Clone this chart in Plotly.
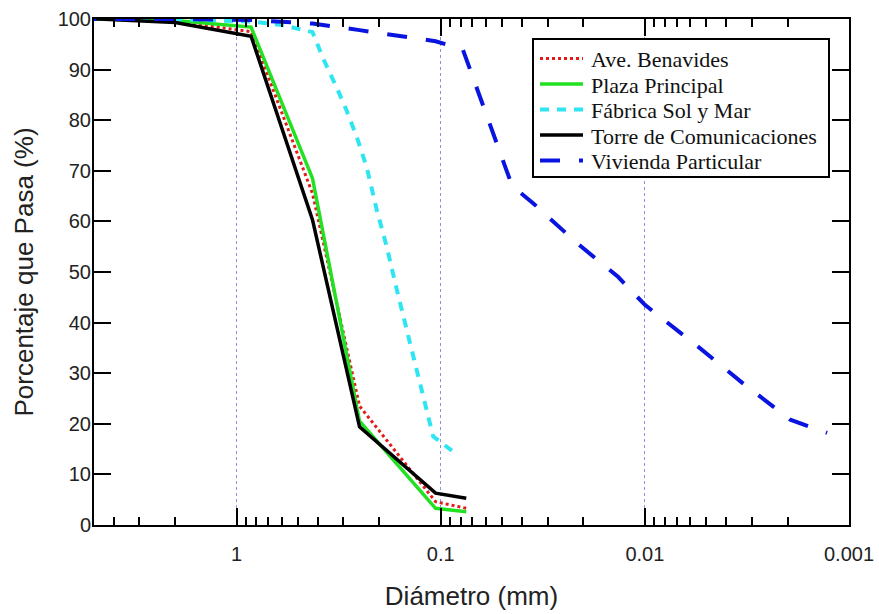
import numpy as np
import plotly.graph_objects as go

# Sieve sizes (mm)
d_std = [9.5, 4.75, 2.0, 0.85, 0.425, 0.25, 0.106, 0.075]

ave_benavides = [100, 100, 99.5, 97.5, 65.5, 23.5, 4.6, 3.3]
plaza_principal = [100, 100, 99.7, 98.4, 68.5, 20.5, 3.3, 2.6]
torre_com = [100, 100, 99.3, 96.6, 60.3, 19.4, 6.3, 5.3]

d_fabrica = [9.5, 4.75, 2.0, 0.85, 0.6, 0.425, 0.375, 0.32, 0.29, 0.258, 0.231, 0.206,
             0.184, 0.164, 0.147, 0.131, 0.117, 0.109, 0.087]
fabrica = [100, 100, 100, 99.5, 98.8, 97.4, 92.0, 86.0, 82.0, 76.7, 70.8, 62.3,
           55.0, 46.4, 38.5, 30.6, 22.1, 17.5, 14.5]

d_vivienda = [9.5, 4.75, 2.0, 0.85, 0.425, 0.25, 0.106, 0.078, 0.0447, 0.0353, 0.0215,
              0.0135, 0.01, 0.00547, 0.00333, 0.00194, 0.00128]
vivienda = [100, 100, 100, 99.8, 99.1, 97.8, 95.6, 94.0, 67.0, 63.6, 55.7,
            49.0, 43.5, 35.2, 28.1, 20.8, 18.2]

names = ["Ave. Benavides", "Plaza Principal", "Fábrica Sol y Mar",
         "Torre de Comunicaciones", "Vivienda Particular"]

x_tickvals = [1, 0.1, 0.01, 0.001]
x_ticktext = ["1", "0.1", "0.01", "0.001"]
y_tickvals = list(range(0, 101, 10))

styles = [
    dict(color="#e31a1a", width=3, dash="dot"),
    dict(color="#22e022", width=3.5, dash="solid"),
    dict(color="#2ee6f2", width=4, dash="9px,8px"),
    dict(color="black", width=3.5, dash="solid"),
    dict(color="#0a14e0", width=4, dash="20px,19px"),
]
xs = [d_std, d_std, d_fabrica, d_std, d_vivienda]
ys = [ave_benavides, plaza_principal, fabrica, torre_com, vivienda]

fig = go.Figure()
for name, x, y, st in zip(names, xs, ys, styles):
    fig.add_trace(go.Scatter(x=x, y=y, mode="lines", name=name, line=st))

# ---- legend box (drawn in paper coordinates) ----
W, H = 879, 614
L, R, T, B = 94, 30, 19, 89
pw, ph = W - L - R, H - T - B


def px(xp):
    return (xp - L) / pw


def py(yp):
    return (H - B - yp) / ph


shapes = [dict(type="rect", xref="paper", yref="paper",
               x0=px(533), x1=px(829), y0=py(177), y1=py(39),
               line=dict(color="black", width=2), fillcolor="white", layer="above")]
annotations = []
row_y = [58.5, 84, 109.5, 135, 160.5]
for name, st, ry in zip(names, styles, row_y):
    shapes.append(dict(type="line", xref="paper", yref="paper",
                       x0=px(540), x1=px(583), y0=py(ry), y1=py(ry),
                       line=dict(color=st["color"], width=st["width"], dash=st["dash"]),
                       layer="above"))
    annotations.append(dict(xref="paper", yref="paper", x=px(589), y=py(ry + 1),
                            xanchor="left", yanchor="middle", showarrow=False,
                            text=name,
                            font=dict(family="Liberation Serif, Times New Roman, serif",
                                      size=22, color="#111")))

fig.update_layout(
    width=W, height=H,
    margin=dict(l=L, r=R, t=T, b=B),
    paper_bgcolor="white", plot_bgcolor="white",
    font=dict(family="Liberation Sans, Arial, sans-serif", color="#222"),
    showlegend=False,
    shapes=shapes,
    annotations=annotations,
)

fig.update_xaxes(
    type="log", range=[np.log10(5), np.log10(0.001)],
    tickvals=x_tickvals, ticktext=x_ticktext,
    ticks="inside", ticklen=17, tickwidth=2, tickcolor="black",
    showline=True, linecolor="black", linewidth=2, mirror="allticks",
    showgrid=True, gridcolor="#8f8fe0", griddash="dot", gridwidth=1,
    minor=dict(ticks="inside", ticklen=8, tickwidth=2, tickcolor="black",
               dtick="D1", showgrid=False),
    tickfont=dict(size=20, color="#222"),
    ticklabelstandoff=10,
    title=dict(text="Diámetro (mm)", font=dict(size=26, color="#222"), standoff=23),
    zeroline=False, automargin=False,
)
fig.update_yaxes(
    range=[0, 100], tickvals=y_tickvals,
    ticks="inside", ticklen=17, tickwidth=2, tickcolor="black",
    showline=True, linecolor="black", linewidth=2, mirror="allticks",
    showgrid=False, zeroline=False,
    tickfont=dict(size=20, color="#222"),
    ticklabelstandoff=-3,
    title=dict(text="Porcentaje que Pasa (%)", font=dict(size=26, color="#222"), standoff=17),
    automargin=False,
)

fig.write_html("out.html", config={"displayModeBar": False},
               post_script="document.body.style.margin='0px';")
